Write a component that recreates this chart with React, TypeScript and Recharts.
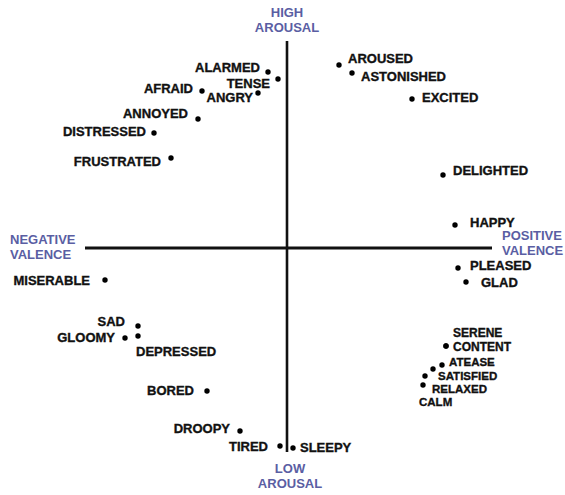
import React from "react";
import { ScatterChart, Scatter, XAxis, YAxis, ReferenceLine } from "recharts";

// Emotion words placed on the valence (x) / arousal (y) plane
const emotionNames = [
  "ALARMED", "TENSE", "AFRAID", "ANGRY", "ANNOYED", "DISTRESSED", "FRUSTRATED",
  "AROUSED", "ASTONISHED", "EXCITED", "DELIGHTED", "HAPPY", "PLEASED", "GLAD",
  "MISERABLE", "SAD", "GLOOMY", "DEPRESSED", "BORED", "DROOPY", "TIRED", "SLEEPY",
  "SERENE", "CONTENT", "ATEASE", "SATISFIED", "RELAXED", "CALM",
];
const valence = [
  -0.19, -0.09, -0.85, -0.29, -0.89, -1.33, -1.16,
  0.52, 0.65, 1.25, 1.56, 1.68, 1.71, 1.79,
  -1.82, -1.49, -1.62, -1.49, -0.80, -0.47, -0.07, 0.06,
  1.59, 1.59, 1.55, 1.46, 1.38, 1.36,
];
const arousal = [
  1.76, 1.69, 1.57, 1.55, 1.29, 1.15, 0.90,
  1.83, 1.75, 1.49, 0.73, 0.23, -0.20, -0.34,
  -0.32, -0.78, -0.90, -0.88, -1.43, -1.83, -1.98, -2.00,
  -0.98, -0.98, -1.17, -1.21, -1.28, -1.37,
];

// Axis pole labels
const poleLabels = [
  ["HIGH", "AROUSAL"],
  ["LOW", "AROUSAL"],
  ["NEGATIVE", "VALENCE"],
  ["POSITIVE", "VALENCE"],
];
const poleValence = [0, 0.03, -2.77, 2.15];
const poleArousal = [2.36, -2.2, 0.09, 0.13];
const poleAnchor = ["middle", "middle", "start", "start"];

// Axis extents
const valenceDomain = [-2.87, 2.78];
const arousalDomain = [-2.47, 2.48];
const arousalAxisSpan = [-2.04, 2.07];
const valenceAxisSpan = [-2.02, 2.05];

// Label placement relative to each dot (layout only): anchor, dx, dy, font size
const labelPlacement: Record<string, [string, number, number, number?]> = {
  ALARMED: ["end", -8, -5],
  TENSE: ["end", -8, 4],
  AFRAID: ["end", -9, -3],
  ANGRY: ["end", -5, 4],
  ANNOYED: ["end", -10, -6],
  DISTRESSED: ["end", -8, -2],
  FRUSTRATED: ["end", -10, 3],
  AROUSED: ["start", 9, -7],
  ASTONISHED: ["start", 9, 3],
  EXCITED: ["start", 10, -2],
  DELIGHTED: ["start", 10, -5],
  HAPPY: ["start", 15, -3],
  PLEASED: ["start", 12, -3],
  GLAD: ["start", 15, 0],
  MISERABLE: ["end", -15, 0],
  SAD: ["end", -13, -5],
  GLOOMY: ["end", -10, -1],
  DEPRESSED: ["start", -2, 15],
  BORED: ["end", -13, -1],
  DROOPY: ["end", -10, -3],
  TIRED: ["end", -12, 0],
  SLEEPY: ["start", 7, -1],
  SERENE: ["start", 7, -13, 12],
  CONTENT: ["start", 7, 1, 12],
  ATEASE: ["start", 7, -3, 11.5],
  SATISFIED: ["start", 5, 7, 11.5],
  RELAXED: ["start", 7, 13, 11.5],
  CALM: ["start", -4, 17, 11.5],
};

const emotionData = emotionNames.map((name, i) => ({ name, v: valence[i], a: arousal[i] }));
const poleData = poleLabels.map((lines, i) => ({
  lines,
  v: poleValence[i],
  a: poleArousal[i],
  anchor: poleAnchor[i],
}));

const FONT = "'Liberation Sans', Arial, sans-serif";

const EmotionMark = (props: any) => {
  const { cx, cy, payload } = props;
  if (cx == null || cy == null) return null;
  const place = labelPlacement[payload.name] || ["start", 8, 0];
  const size = place[3] ?? 13;
  return (
    <g>
      <circle cx={cx} cy={cy} r={2.7} fill="#000" />
      <text
        x={cx + place[1]}
        y={cy + place[2] + size * 0.355}
        textAnchor={place[0] as any}
        fontFamily={FONT}
        fontWeight="bold"
        fontSize={size}
        fill="#111"
        stroke="#111"
        strokeWidth={0.35}
      >
        {payload.name}
      </text>
    </g>
  );
};

const PoleMark = (props: any) => {
  const { cx, cy, payload } = props;
  if (cx == null || cy == null) return null;
  return (
    <text
      textAnchor={payload.anchor}
      fontFamily={FONT}
      fontWeight="bold"
      fontSize={13}
      fill="#5a5ea3"
    >
      {payload.lines.map((l: string, i: number) => (
        <tspan key={i} x={cx} y={cy + 4.6 + i * 15.5}>
          {l}
        </tspan>
      ))}
    </text>
  );
};

export default function App() {
  return (
    <div style={{ position: "absolute", left: 0, top: 0, width: 565, height: 495, background: "#fff" }}>
      <ScatterChart width={565} height={495} margin={{ top: 0, right: 0, bottom: 0, left: 0 }}>
        <XAxis type="number" dataKey="v" domain={valenceDomain} hide allowDataOverflow />
        <YAxis type="number" dataKey="a" domain={arousalDomain} hide allowDataOverflow />
        <ReferenceLine
          segment={[{ x: 0, y: arousalAxisSpan[0] }, { x: 0, y: arousalAxisSpan[1] }]}
          stroke="#111"
          strokeWidth={2.6}
        />
        <ReferenceLine
          segment={[{ x: valenceAxisSpan[0], y: 0 }, { x: valenceAxisSpan[1], y: 0 }]}
          stroke="#111"
          strokeWidth={3}
        />
        <Scatter data={emotionData} isAnimationActive={false} shape={(p: any) => <EmotionMark {...p} />} />
        <Scatter data={poleData} isAnimationActive={false} shape={(p: any) => <PoleMark {...p} />} />
      </ScatterChart>
    </div>
  );
}
